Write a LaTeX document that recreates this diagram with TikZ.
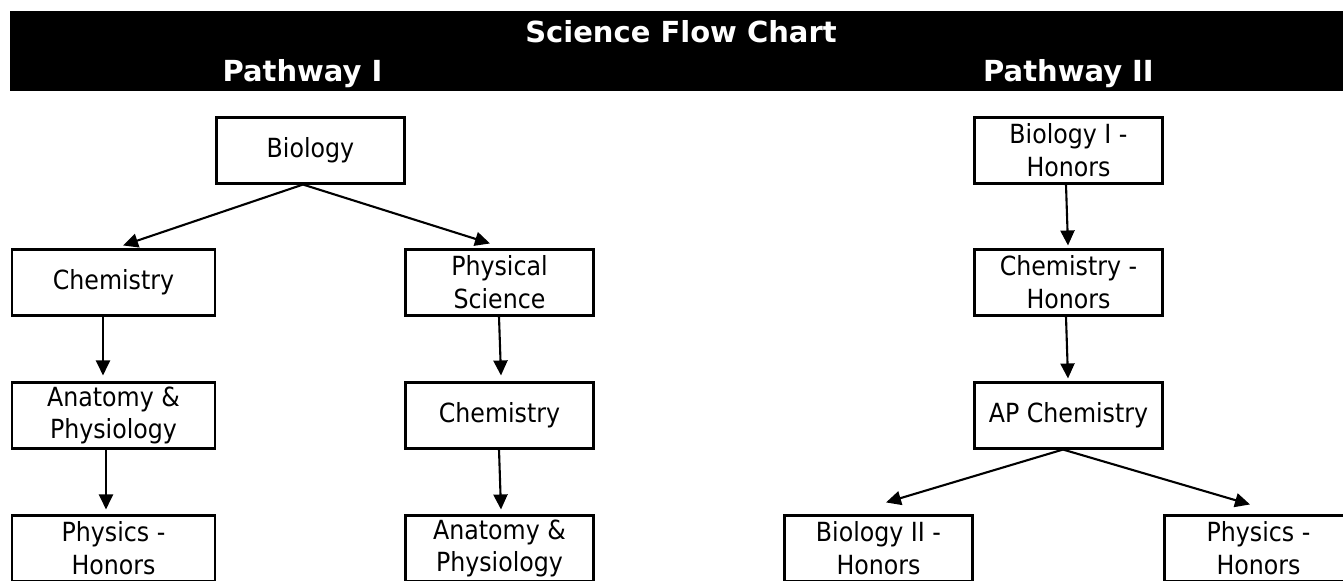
\documentclass[tikz,border=0pt]{standalone}
\usepackage{xcolor}
\usepackage{fontspec}
\setmainfont{DejaVu Sans Condensed}
\newfontfamily\headfont{DejaVu Sans}
\usepackage{tikz}
\usetikzlibrary{arrows.meta, calc}

\begin{document}
\begin{tikzpicture}[
    x=0.02cm, y=-0.02cm,
    course/.style={draw, line width=0.042cm, minimum width=3.76cm, minimum height=1.32cm, align=center, inner sep=1pt, font=\fontsize{15pt}{18.6pt}\selectfont},
    wide/.style={minimum width=4.06cm},
    heading/.style={anchor=base, text=white, font=\headfont\bfseries\fontsize{16.5pt}{19pt}\selectfont},
    arrow/.style={-{Triangle[length=0.3cm, width=0.28cm]}, line width=0.042cm}
]
    \useasboundingbox (0,0) rectangle (1343,581);

    % Title bar
    \fill[black] (10,11) rectangle (1343,91);
    \node[heading] (title) at (681,43) {Science Flow Chart};
    \node[heading] (pathone) at (302.5,82) {Pathway I};
    \node[heading] (pathtwo) at (1068.5,82) {Pathway II};

    % Pathway I
    \node[course] (bio) at (310.5,150.5) {Biology};
    \node[course, wide] (chemA) at (113.5,282.5) {Chemistry};
    \node[course] (physci) at (499.5,282.5) {Physical\\Science};
    \node[course, wide] (anatA) at (113.5,415.5) {Anatomy \&\\Physiology};
    \node[course] (chemB) at (499.5,415.5) {Chemistry};
    \node[course, wide] (physA) at (113.5,548.5) {Physics -\\Honors};
    \node[course] (anatB) at (499.5,548.5) {Anatomy \&\\Physiology};

    \draw[arrow] ($(bio.south)+(-7.5,0)$) -- ($(chemA.north)+(9.5,-3)$);
    \draw[arrow] ($(bio.south)+(-7.5,0)$) -- ($(physci.north)+(-9.5,-5)$);
    \draw[arrow] ($(chemA.south)+(-10.5,0)$) -- ($(anatA.north)+(-10.5,-6)$);
    \draw[arrow] ($(anatA.south)+(-7.5,0)$) -- ($(physA.north)+(-7.5,-5)$);
    \draw[arrow] ($(physci.south)+(-0.5,0)$) -- ($(chemB.north)+(1.5,-6)$);
    \draw[arrow] ($(chemB.south)+(-0.5,0)$) -- ($(anatB.north)+(1.5,-5)$);

    % Pathway II
    \node[course] (bioH) at (1068.5,150.5) {Biology I -\\Honors};
    \node[course] (chemH) at (1068.5,282.5) {Chemistry -\\Honors};
    \node[course] (apchem) at (1068.5,415.5) {AP Chemistry};
    \node[course] (biotwoH) at (878.5,548.5) {Biology II -\\Honors};
    \node[course] (physH) at (1258.5,548.5) {Physics -\\Honors};

    \draw[arrow] ($(bioH.south)+(-2.5,0)$) -- ($(chemH.north)+(-0.5,-3)$);
    \draw[arrow] ($(chemH.south)+(-2.5,0)$) -- ($(apchem.north)+(-0.5,-3)$);
    \draw[arrow] ($(apchem.south)+(-5.5,0)$) -- ($(biotwoH.north)+(7.5,-12)$);
    \draw[arrow] ($(apchem.south)+(-5.5,0)$) -- ($(physH.north)+(-8.5,-10)$);
\end{tikzpicture}
\end{document}
